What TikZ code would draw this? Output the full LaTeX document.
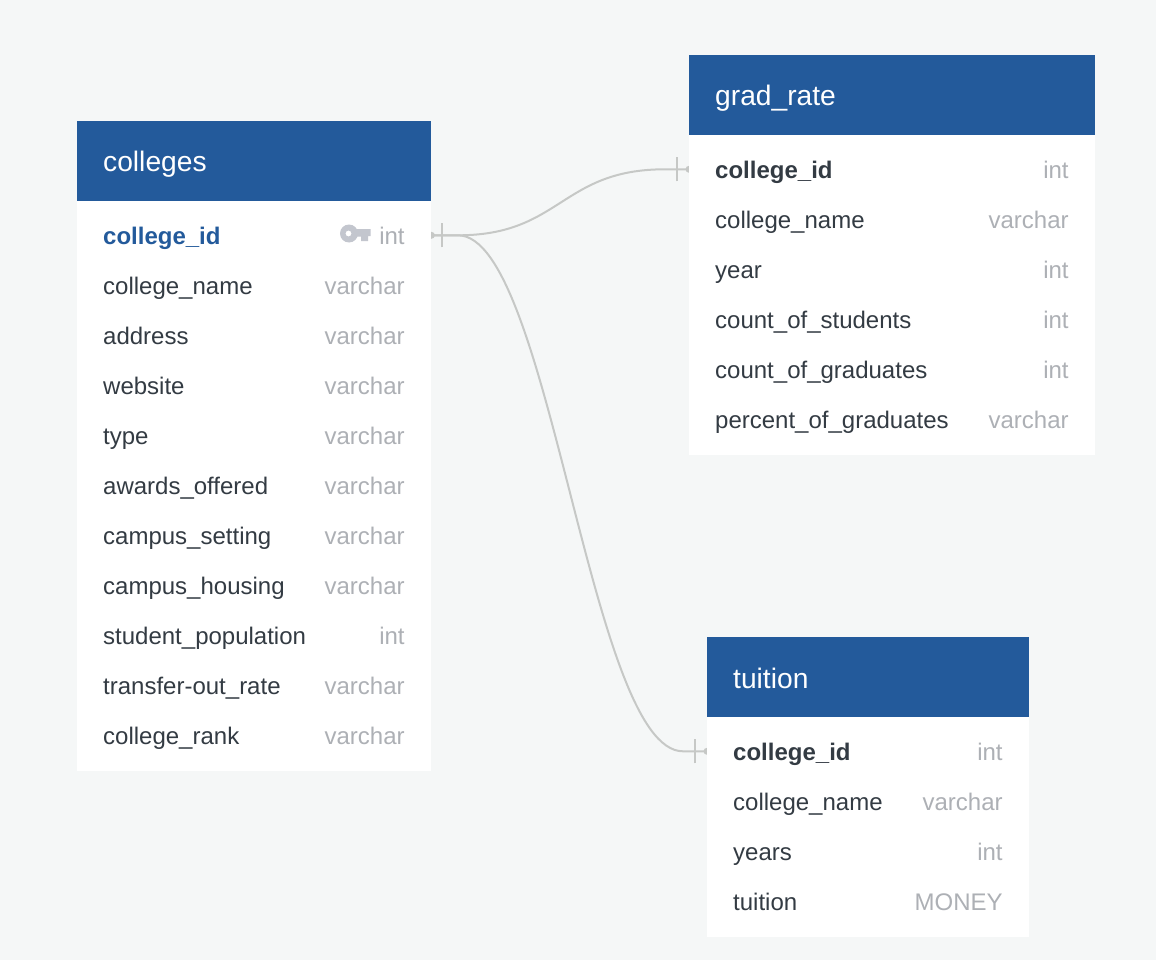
\documentclass[tikz,border=0pt]{standalone}
\usepackage{fontspec}
\setmainfont{Liberation Sans}
\usetikzlibrary{backgrounds}
\definecolor{pagebg}{HTML}{F5F7F7}
\definecolor{headblue}{HTML}{235A9B}
\definecolor{nametext}{HTML}{333B43}
\definecolor{typetext}{HTML}{ADB0B5}
\definecolor{linkgrey}{HTML}{C6C8C6}
\definecolor{keygrey}{HTML}{C3C6CE}
\tikzset{
  x=1pt,y=-1pt,
  headbox/.style={draw=none,fill=headblue,inner sep=0pt,minimum height=80pt,anchor=north west},
  headtext/.style={text=white,font=\fontsize{28.2}{32}\selectfont,anchor=base west,inner sep=0pt},
  bodybox/.style={draw=none,fill=white,inner sep=0pt,anchor=north west},
  rowbox/.style={draw=none,fill=white,inner sep=0pt,minimum height=50pt,anchor=west},
  fieldname/.style={text=nametext,font=\fontsize{24}{28}\selectfont,anchor=base west,inner sep=0pt},
  fieldkey/.style={fieldname,font=\fontsize{24}{28}\selectfont\bfseries},
  fieldpk/.style={fieldkey,text=headblue},
  fieldtype/.style={text=typetext,font=\fontsize{24}{28}\selectfont,anchor=base east,inner sep=0pt},
  link/.style={draw=linkgrey,line width=2pt},
  tick/.style={draw=linkgrey,line width=2pt},
  enddot/.style={circle,fill=linkgrey,inner sep=0pt,minimum size=7pt},
}
% \tbl{id}{left}{top}{width}{title}{body height}
\newcommand{\tbl}[6]{%
  \node[headbox,minimum width=#4pt] (#1head) at (#2,#3) {};
  \node[headtext] (#1title) at (#2+26,#3+51) {#5};
  \node[bodybox,minimum width=#4pt,minimum height=#6pt] (#1body) at (#2,#3+80) {};
}
% \rw{id}{left}{width}{row centre}{style}{name}{type}
\newcommand{\rw}[7]{%
  \node[rowbox,minimum width=#3pt] (#1) at (#2,#4-0.7) {};
  \node[#5] (#1n) at (#2+26,#4+8.3) {#6};
  \node[fieldtype] (#1t) at (#2+#3-26.2,#4+8.3) {#7};
}
\begin{document}
\begin{tikzpicture}
\useasboundingbox (0,0) rectangle (1156,960);
% colleges
\tbl{c}{77}{121}{354}{colleges}{570}
\rw{c1}{77}{354}{236}{fieldpk}{college\_id}{int}
\rw{c2}{77}{354}{286}{fieldname}{college\_name}{varchar}
\rw{c3}{77}{354}{336}{fieldname}{address}{varchar}
\rw{c4}{77}{354}{386}{fieldname}{website}{varchar}
\rw{c5}{77}{354}{436}{fieldname}{type}{varchar}
\rw{c6}{77}{354}{486}{fieldname}{awards\_offered}{varchar}
\rw{c7}{77}{354}{536}{fieldname}{campus\_setting}{varchar}
\rw{c8}{77}{354}{586}{fieldname}{campus\_housing}{varchar}
\rw{c9}{77}{354}{636}{fieldname}{student\_population}{int}
\rw{c10}{77}{354}{686}{fieldname}{transfer-out\_rate}{varchar}
\rw{c11}{77}{354}{736}{fieldname}{college\_rank}{varchar}
% key icon
\fill[keygrey,even odd rule] (349,233.5) circle (9) (348.5,233.5) circle (3);
\fill[keygrey] (355,229) -- (370.5,229) -- (370.5,236) -- (368,236) -- (368,241) -- (361,241) -- (361,236.5) -- (355,236.5) -- cycle;
% grad_rate
\tbl{g}{689}{55}{406}{grad\_rate}{320}
\rw{g1}{689}{406}{170}{fieldkey}{college\_id}{int}
\rw{g2}{689}{406}{220}{fieldname}{college\_name}{varchar}
\rw{g3}{689}{406}{270}{fieldname}{year}{int}
\rw{g4}{689}{406}{320}{fieldname}{count\_of\_students}{int}
\rw{g5}{689}{406}{370}{fieldname}{count\_of\_graduates}{int}
\rw{g6}{689}{406}{420}{fieldname}{percent\_of\_graduates}{varchar}
% tuition
\tbl{t}{707}{637}{322}{tuition}{220}
\rw{t1}{707}{322}{752}{fieldkey}{college\_id}{int}
\rw{t2}{707}{322}{802}{fieldname}{college\_name}{varchar}
\rw{t3}{707}{322}{852}{fieldname}{years}{int}
\rw{t4}{707}{322}{902}{fieldname}{tuition}{MONEY}
% connectors
\begin{scope}[on background layer]
\fill[pagebg] (0,0) rectangle (1156,960);
\draw[link] (c1.east) -- (458,235.3) .. controls (561,235.3) and (561,169.3) .. (665,169.3) -- (g1.west);
\draw[link] (c1.east) -- (458,235.3) .. controls (550,235.3) and (590,751.3) .. (683,751.3) -- (t1.west);
\node[enddot] (d1) at (c1.east) {};
\node[enddot] (d2) at (g1.west) {};
\node[enddot] (d3) at (t1.west) {};
\draw[tick] ([xshift=11pt,yshift=-12pt]c1.east) coordinate (a1) -- ([xshift=11pt,yshift=12pt]c1.east) coordinate (a2);
\draw[tick] ([xshift=-12pt,yshift=-12pt]g1.west) coordinate (b1) -- ([xshift=-12pt,yshift=12pt]g1.west) coordinate (b2);
\draw[tick] ([xshift=-12pt,yshift=-12pt]t1.west) coordinate (e1) -- ([xshift=-12pt,yshift=12pt]t1.west) coordinate (e2);
\end{scope}
\end{tikzpicture}
\end{document}
